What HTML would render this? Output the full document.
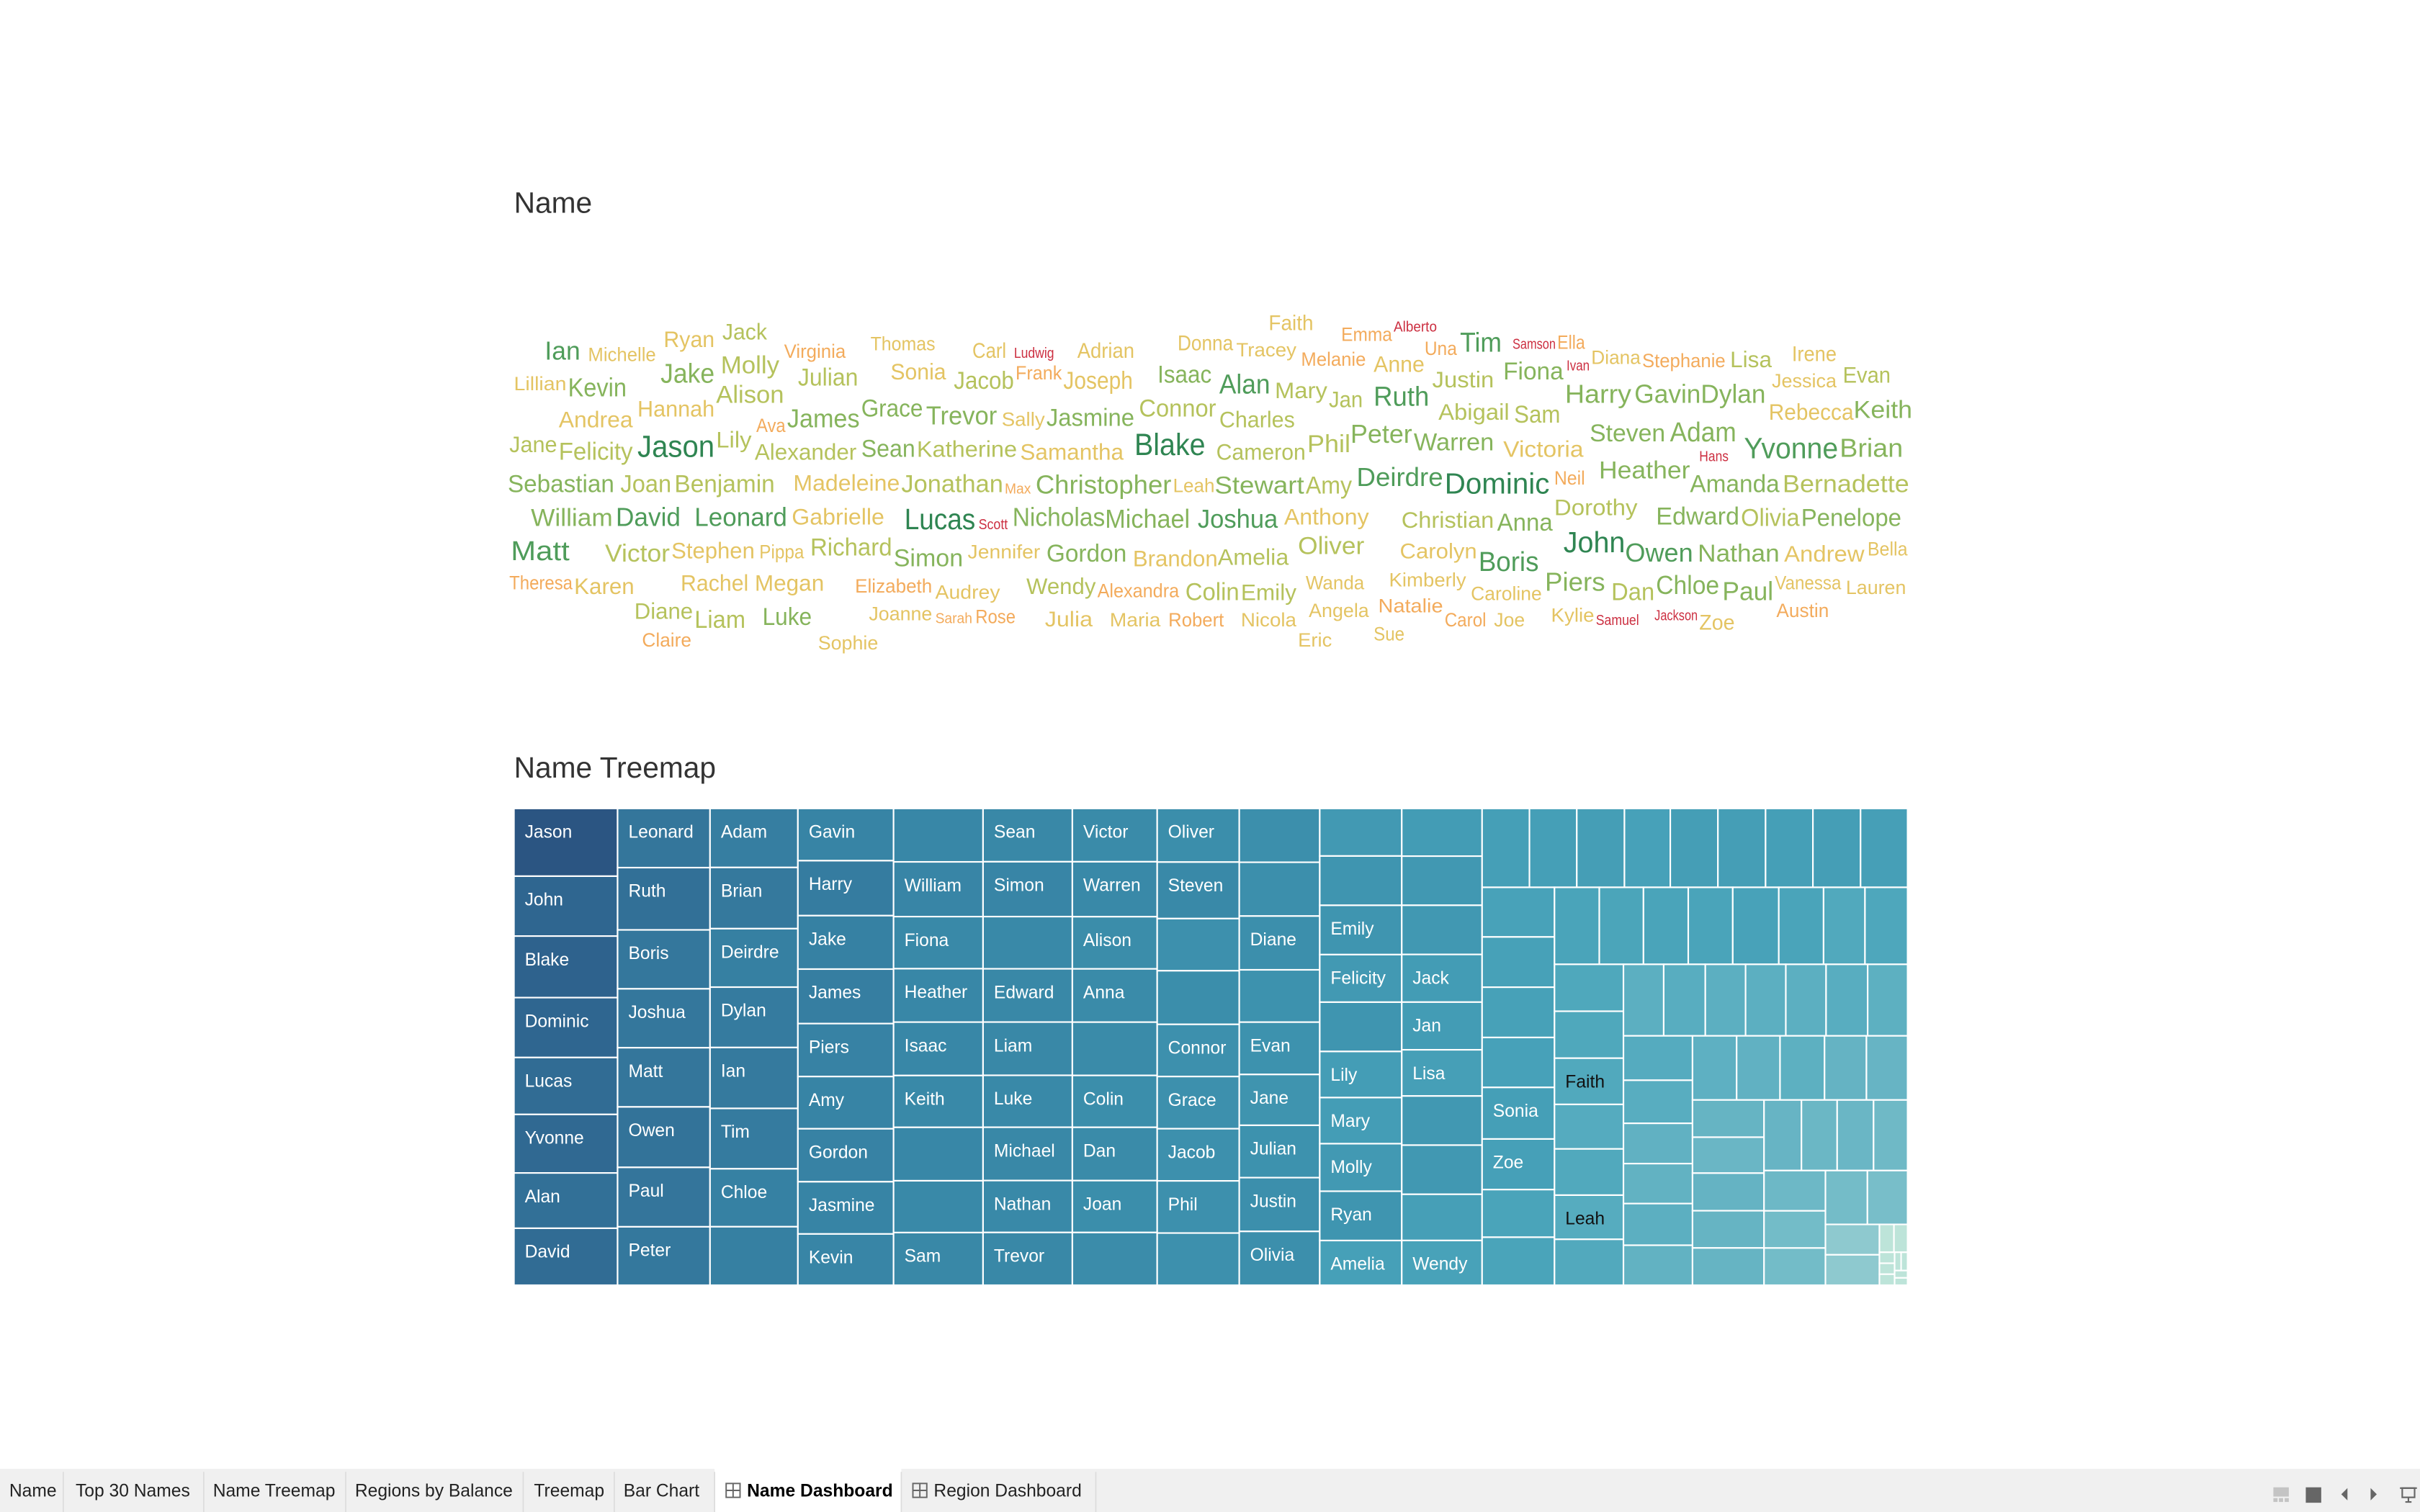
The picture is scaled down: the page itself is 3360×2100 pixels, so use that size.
<!DOCTYPE html>
<html><head><meta charset="utf-8">
<style>
html,body{margin:0;padding:0;background:#fff;}
svg{display:block;}
text{font-family:"Liberation Sans",sans-serif;}
</style></head>
<body>
<svg id="root" width="3360" height="2100" viewBox="0 0 1568 980" xmlns="http://www.w3.org/2000/svg">
  <text x="333" y="138" font-size="19" fill="#333">Name</text>
  <g id="cloud"></g>
  <text x="333" y="504" font-size="19" fill="#333">Name Treemap</text>
  <g id="tree"></g>

  <g>
    <rect x="0" y="952" width="1568" height="28" fill="#f0f0f0"/>
    <rect x="463" y="952" width="121" height="28" fill="#fff"/>
    <g stroke="#dcdcdc" stroke-width="0.8">
      <line x1="41" y1="954" x2="41" y2="980"/><line x1="132" y1="954" x2="132" y2="980"/>
      <line x1="224" y1="954" x2="224" y2="980"/><line x1="339" y1="954" x2="339" y2="980"/>
      <line x1="398" y1="954" x2="398" y2="980"/><line x1="463" y1="954" x2="463" y2="980"/>
      <line x1="584" y1="954" x2="584" y2="980"/><line x1="710" y1="954" x2="710" y2="980"/>
    </g>
    <g font-size="11.5" fill="#222">
      <text x="6" y="970">Name</text>
      <text x="49" y="970">Top 30 Names</text>
      <text x="138" y="970">Name Treemap</text>
      <text x="230" y="970">Regions by Balance</text>
      <text x="346" y="970">Treemap</text>
      <text x="404" y="970">Bar Chart</text>
      <text x="484" y="970" font-weight="bold" fill="#000">Name Dashboard</text>
      <text x="605" y="970">Region Dashboard</text>
    </g>
    <g fill="none" stroke="#666" stroke-width="0.9">
      <rect x="470.5" y="961.5" width="9" height="9"/><line x1="475" y1="961.5" x2="475" y2="970.5"/><line x1="470.5" y1="966" x2="479.5" y2="966"/>
      <rect x="591.5" y="961.5" width="9" height="9"/><line x1="596" y1="961.5" x2="596" y2="970.5"/><line x1="591.5" y1="966" x2="600.5" y2="966"/>
    </g>
    <g>
      <g fill="#c4c4c4">
        <rect x="1473" y="964" width="10" height="6"/><rect x="1473" y="971" width="2.7" height="2.5"/><rect x="1476.6" y="971" width="2.7" height="2.5"/><rect x="1480.3" y="971" width="2.7" height="2.5"/>
      </g>
      <rect x="1494" y="964" width="10" height="10" fill="#666"/>
      <polygon points="1521,964.5 1521,972.5 1517,968.5" fill="#666"/>
      <polygon points="1536,964.5 1536,972.5 1540,968.5" fill="#666"/>
      <g stroke="#666" stroke-width="1" fill="none">
        <line x1="1555" y1="964.5" x2="1566" y2="964.5"/><rect x="1556.5" y="964.5" width="8" height="6"/><line x1="1560.5" y1="970.5" x2="1560.5" y2="973"/><line x1="1558.5" y1="973.5" x2="1562.5" y2="973.5"/>
      </g>
    </g>
  </g>
</svg>
<script>
// ---------- Word cloud data ----------
const cloudWords = ["Ian","Michelle","Ryan","Jack","Virginia","Thomas","Carl","Ludwig","Adrian","Donna","Faith","Emma","Alberto","Una","Tim","Samson","Ella","Diana","Ivan","Stephanie","Lisa","Irene","Molly","Jake","Julian","Sonia","Jacob","Frank","Joseph","Isaac","Tracey","Melanie","Anne","Justin","Fiona","Evan","Jessica","Lillian","Kevin","Alison","Alan","Mary","Jan","Ruth","Harry","Gavin","Dylan","Hannah","Abigail","Sam","Rebecca","Keith","Andrea","Ava","James","Grace","Trevor","Sally","Jasmine","Connor","Charles","Jane","Felicity","Jason","Lily","Alexander","Sean","Katherine","Samantha","Blake","Cameron","Phil","Peter","Warren","Victoria","Steven","Adam","Hans","Yvonne","Brian","Heather","Sebastian","Joan","Benjamin","Madeleine","Jonathan","Max","Christopher","Leah","Stewart","Amy","Deirdre","Dominic","Neil","Amanda","Bernadette","William","David","Leonard","Gabrielle","Lucas","Scott","Nicholas","Michael","Joshua","Anthony","Christian","Anna","Dorothy","Edward","Olivia","Penelope","Matt","Victor","Stephen","Pippa","Richard","Simon","Jennifer","Gordon","Brandon","Amelia","Oliver","Carolyn","Boris","John","Owen","Nathan","Andrew","Bella","Theresa","Karen","Rachel","Megan","Elizabeth","Audrey","Wendy","Alexandra","Colin","Emily","Wanda","Kimberly","Caroline","Piers","Dan","Chloe","Paul","Vanessa","Lauren","Diane","Liam","Luke","Joanne","Sarah","Rose","Julia","Maria","Robert","Nicola","Angela","Natalie","Carol","Joe","Kylie","Samuel","Jackson","Zoe","Austin","Claire","Sophie","Eric","Sue"];
// size (count) per word
const cloudCounts = [16,12,14,14,12,12,13,9,13,13,13,12,9,12,17,9,12,12,9,12,14,13,15,17,15,14,15,12,15,15,12,12,14,14,15,14,12,12,16,15,17,14,14,17,16,16,16,14,14,15,14,15,14,12,16,15,16,12,15,15,14,14,15,19,14,14,15,14,14,19,14,15,16,15,14,15,17,9,18,16,15,15,15,15,14,15,9,16,12,15,15,16,18,12,15,15,15,16,16,14,18,9,16,16,16,14,14,15,14,15,15,15,17,15,14,12,15,15,12,15,14,14,15,13,17,18,16,15,14,12,12,14,14,14,12,12,14,12,15,14,12,12,12,16,15,16,16,12,12,14,15,15,12,9,12,13,12,12,12,12,12,12,12,12,9,9,13,12,12,12,12,12];
// colour class per word: 0 dark green .. 7 red
const cloudColorClass = [1,4,4,3,5,4,4,7,4,4,4,5,7,5,1,7,5,4,7,5,3,4,3,2,3,4,3,5,4,2,4,5,4,3,2,3,4,4,2,3,1,3,3,1,2,2,2,4,3,3,4,2,4,5,2,2,2,4,2,3,3,3,3,0,3,3,2,3,4,0,3,3,2,2,4,2,2,7,1,2,2,2,3,3,4,3,5,2,4,2,3,1,0,5,2,3,2,1,1,4,0,7,2,2,1,4,3,2,3,2,3,2,1,3,4,4,3,2,4,2,4,3,3,4,1,0,1,2,4,4,5,4,4,4,5,4,3,5,3,3,4,4,4,2,3,2,2,4,4,3,3,2,4,5,5,4,4,5,4,4,5,5,4,4,7,7,4,5,5,4,4,4];
// layout (left x, baseline y, right x) — placement only
const cloudLayout = [[353,233,376],[381,234,425],[430,225,463],[468,220,497],[508,232,548],[564,227,606],[630,232,652],[657,232,683],[698,232,735],[763,227,799],[822,214,851],[869,221,902],[903,215,931],[923,230,944],[946,228,973],[980,226,1008],[1009,226,1027],[1031,236,1063],[1015,240,1030],[1064,238,1118],[1121,238,1148],[1161,234,1190],[467,242,505],[428,248,463],[517,250,556],[577,246,613],[618,252,657],[658,246,688],[689,252,734],[750,248,785],[801,231,840],[843,237,885],[890,241,923],[928,251,968],[974,246,1013],[1194,248,1225],[1148,251,1190],[333,253,367],[368,257,406],[464,261,508],[790,255,823],[826,258,860],[861,264,883],[890,263,926],[1014,261,1057],[1059,261,1102],[1102,261,1144],[413,270,463],[932,272,978],[981,274,1011],[1146,272,1201],[1201,271,1239],[362,277,410],[490,280,509],[510,277,557],[558,270,598],[600,275,646],[649,276,677],[678,276,735],[738,270,788],[790,277,839],[330,293,361],[362,298,410],[413,296,463],[464,290,487],[489,298,555],[558,296,593],[594,296,659],[661,298,728],[735,295,781],[788,298,846],[847,293,875],[875,287,915],[916,292,968],[974,296,1026],[1030,286,1079],[1082,286,1125],[1101,299,1120],[1130,297,1191],[1192,296,1233],[1036,310,1095],[329,319,398],[402,319,435],[437,319,502],[514,318,583],[584,319,650],[651,320,668],[671,320,759],[760,319,787],[787,320,845],[846,320,876],[879,315,935],[936,320,1004],[1007,314,1027],[1095,319,1153],[1155,319,1237],[344,341,397],[399,341,441],[450,341,510],[513,340,573],[586,343,632],[634,343,653],[656,341,716],[716,342,771],[776,342,828],[832,340,887],[908,342,968],[970,344,1006],[1007,334,1061],[1073,340,1127],[1128,341,1166],[1167,341,1232],[331,363,369],[392,364,434],[435,362,489],[492,362,521],[525,360,578],[579,367,624],[627,362,674],[678,364,730],[734,367,789],[789,366,835],[841,359,884],[907,362,957],[958,370,997],[1013,358,1053],[1053,364,1097],[1100,364,1153],[1156,364,1208],[1210,360,1236],[330,382,371],[372,385,411],[441,383,485],[489,383,534],[554,384,604],[606,388,648],[665,385,710],[711,387,764],[768,389,803],[804,389,840],[846,382,884],[900,380,950],[953,389,999],[1001,383,1040],[1044,389,1072],[1073,385,1114],[1116,389,1149],[1150,382,1193],[1196,385,1235],[411,401,449],[450,407,483],[494,405,526],[563,402,604],[606,404,630],[632,404,658],[677,406,708],[719,406,752],[757,406,793],[804,406,840],[848,400,887],[893,397,935],[936,406,963],[968,406,988],[1005,403,1033],[1034,405,1062],[1072,402,1100],[1101,408,1124],[1151,400,1185],[416,419,448],[530,421,569],[841,419,863],[890,415,910]];
const cloudPalette = ["#2f8552","#4f9c5a","#86b45c","#b5c25c","#e4c463","#f3ab5c","#f28a52","#cc2f41"];

// ---------- Treemap data (columns / rows in squarified order) ----------
const tmGroupDirs = ["col","col","col","col","col","col","col","col","col","col","col","row","col","row","col","row","col","row","col","row","col","row","col","row","col","row","col"];
const tmValues = [
 [29.5,26.1,26.8,26.1,24.8,25.5,24.1,24.8],
 [23.0,24.2,22.9,22.9,23.0,23.5,23.1,22.7],
 [21.8,22.6,21.6,22.3,22.5,22.3,21.4,21.6],
 [21.0,22.1,21.5,21.9,21.3,21.0,21.3,21.0,20.6],
 [20.1,20.6,19.6,20.1,20.1,19.5,20.1,19.5,19.8],
 [20.0,20.6,19.6,20.0,20.0,19.5,20.0,19.5,19.8],
 [19.0,19.6,18.6,19.0,19.0,18.5,19.0,18.5,18.8],
 [18.5,19.5,18.0,18.5,18.0,18.0,18.0,18.0,18.0],
 [18.2,18.2,18.2,17.7,17.7,17.2,17.7,18.2,18.2],
 [16.4,17.0,17.0,16.4,17.0,15.9,15.9,16.4,17.0,15.4],
 [16.1,16.6,16.6,16.1,16.1,15.6,16.6,16.6,15.6,15.1],
 [15.7,15.7,15.8,15.2,15.8,15.8,15.7,15.8,15.6],
 [15.1,15.3,15.3,15.2,15.7,15.4,14.5,14.6],
 [14.5,14.3,14.5,14.4,14.9,14.5,13.4,13.8],
 [13.6,13.6,13.4,12.9,13.4,12.8,13.3],
 [12.1,12.5,12.1,12.1,12.1,12.5,12.0],
 [12.9,12.5,11.7,11.6,12.1,11.6],
 [11.9,11.7,12.0,11.3,11.1],
 [11.2,10.8,11.3,11.2,11.2],
 [11.1,10.6,10.8,10.1],
 [10.4,9.6,9.6],
 [9.5,9.1],
 [6.9,6.9],
 [1.7,1.6],
 [0.7,0.7,0.7],
 [0.5,0.5],
 [0.4,0.4]
];
const tmNames = [
 ["Jason","John","Blake","Dominic","Lucas","Yvonne","Alan","David"],
 ["Leonard","Ruth","Boris","Joshua","Matt","Owen","Paul","Peter"],
 ["Adam","Brian","Deirdre","Dylan","Ian","Tim","Chloe",""],
 ["Gavin","Harry","Jake","James","Piers","Amy","Gordon","Jasmine","Kevin"],
 ["","William","Fiona","Heather","Isaac","Keith","","","Sam"],
 ["Sean","Simon","","Edward","Liam","Luke","Michael","Nathan","Trevor"],
 ["Victor","Warren","Alison","Anna","","Colin","Dan","Joan",""],
 ["Oliver","Steven","","","Connor","Grace","Jacob","Phil",""],
 ["","","Diane","","Evan","Jane","Julian","Justin","Olivia"],
 ["","","Emily","Felicity","","Lily","Mary","Molly","Ryan","Amelia"],
 ["","","","Jack","Jan","Lisa","","","","Wendy"],
 ["","","","","","","","",""],
 ["","","","","Sonia","Zoe","",""],
 ["","","","","","","",""],
 ["","","Faith","","","Leah",""],
 [],[],[],[],[],[],[],[],[],[],[],[]
];
const tmDarkLabels = ["Faith","Leah"];
const tmColorVals = [29.5,26,23,21,19,17,15.5,14,12.5,11,9.5,7,2];
const tmColorHex  = ["#2b5582","#2f6690","#34769b","#3784a5","#3a8ba9","#3f95b0","#46a0b8","#4ca6bb","#58adc0","#68b5c4","#74bcc8","#8dc8cf","#bde4d9"];

const NS = "http://www.w3.org/2000/svg";
function mk(tag, attrs, parent){ const e=document.createElementNS(NS,tag); for(const k in attrs) e.setAttribute(k,attrs[k]); parent.appendChild(e); return e; }

// draw cloud
const cloud = document.getElementById("cloud");
cloudWords.forEach((w,i)=>{
  const L = cloudLayout[i];
  const fs = cloudCounts[i]*1.05;
  const t = mk("text",{x:L[0],y:L[1],"font-size":fs.toFixed(1),fill:cloudPalette[cloudColorClass[i]],textLength:(L[2]-L[0]),lengthAdjust:"spacingAndGlyphs"},cloud);
  
  
  t.textContent = w;
});

// treemap colour scale
function hex2rgb(h){return [1,3,5].map(i=>parseInt(h.substr(i,2),16));}
function colorFor(v){
  if(v>=tmColorVals[0]) return tmColorHex[0];
  for(let i=0;i<tmColorVals.length-1;i++){
    const a=tmColorVals[i], b=tmColorVals[i+1];
    if(v<=a && v>=b){
      const t=(a-v)/(a-b), c1=hex2rgb(tmColorHex[i]), c2=hex2rgb(tmColorHex[i+1]);
      return "rgb("+c1.map((c,k)=>Math.round(c+(c2[k]-c)*t)).join(",")+")";
    }
  }
  return tmColorHex[tmColorHex.length-1];
}

// treemap layout
const tree = document.getElementById("tree");
const TX=333, TY=524, TW=903, TH=309;
let total=0; tmValues.forEach(g=>g.forEach(v=>total+=v));
const scale = TW*TH/total;
let rx=TX, ry=TY, rw=TW, rh=TH;
tmValues.forEach((g,gi)=>{
  const sum = g.reduce((a,b)=>a+b,0)*scale;
  const dir = tmGroupDirs[gi];
  const last = gi===tmValues.length-1;
  if(dir==="col"){
    const t = last? rw : sum/rh;
    let cy=ry;
    g.forEach((v,ci)=>{
      const h = v*scale/sum*rh;
      drawCell(rx,cy,t,h,v,(tmNames[gi]||[])[ci]||"");
      cy+=h;
    });
    rx+=t; rw-=t;
  } else {
    const t = last? rh : sum/rw;
    let cx=rx;
    g.forEach((v,ci)=>{
      const w = v*scale/sum*rw;
      drawCell(cx,ry,w,t,v,(tmNames[gi]||[])[ci]||"");
      cx+=w;
    });
    ry+=t; rh-=t;
  }
});
function drawCell(x,y,w,h,v,name){
  const r = mk("rect",{x:x.toFixed(2),y:y.toFixed(2),width:w.toFixed(2),height:h.toFixed(2),fill:colorFor(v),stroke:"#fff","stroke-width":"1"},tree);
  
  
  if(name){
    const t = mk("text",{x:(x+7).toFixed(2),y:(y+19).toFixed(2),"font-size":"11.5",fill: tmDarkLabels.includes(name)?"#111":"#fff"},tree);
    
    
    t.textContent = name;
  }
}
</script>
</body></html>
